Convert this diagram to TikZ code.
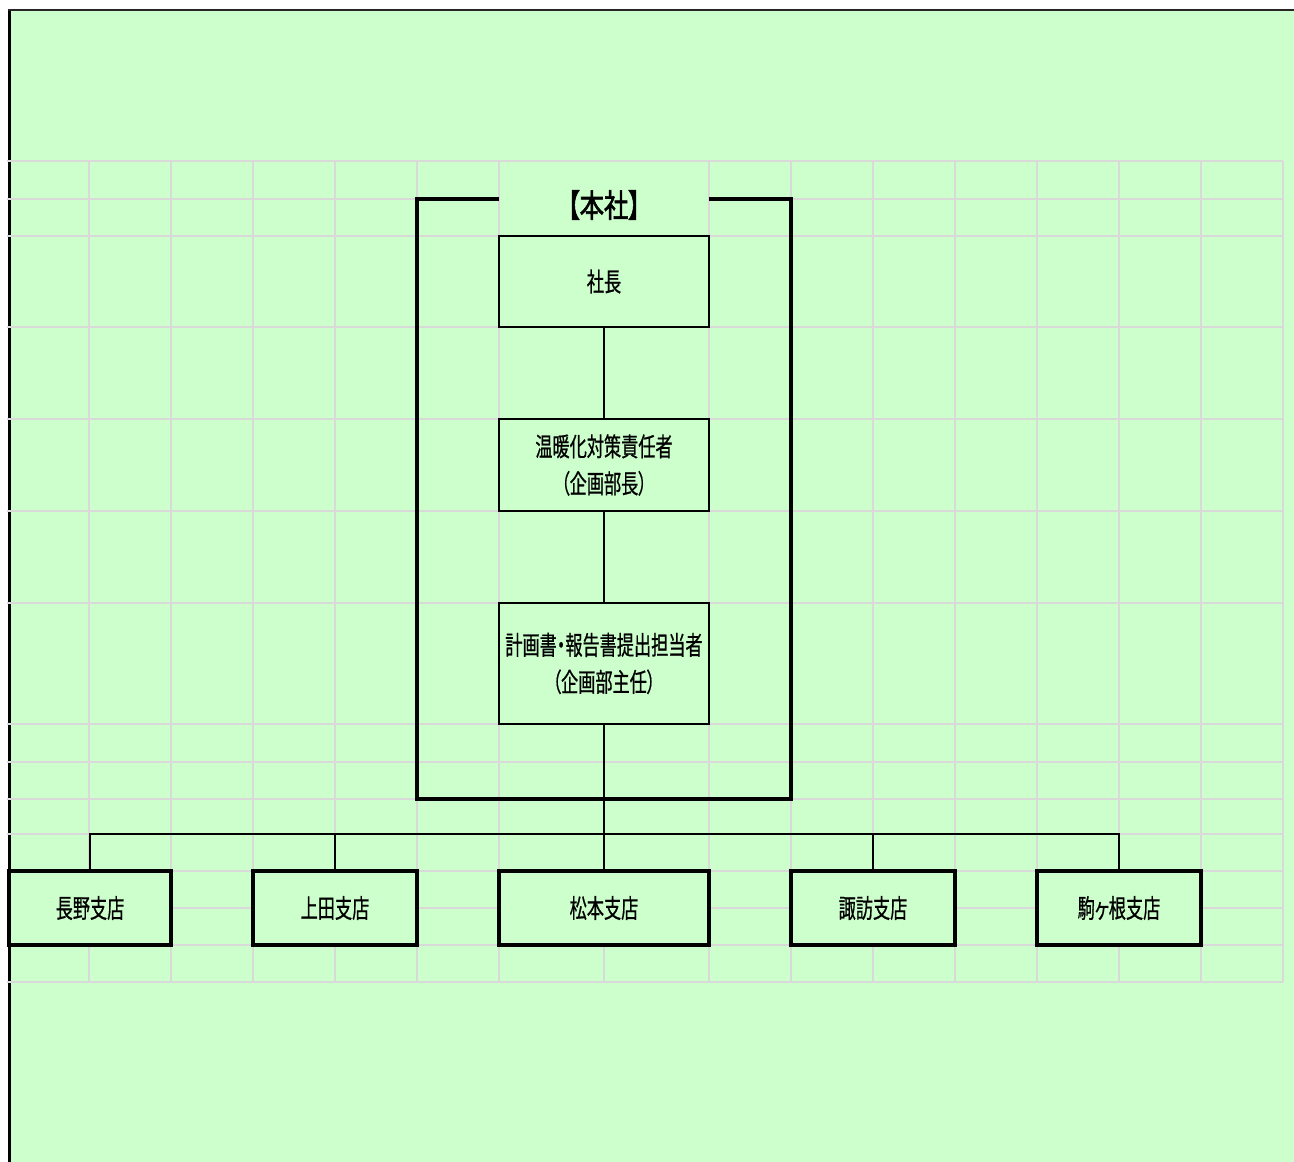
\documentclass[tikz,border=0pt]{standalone}
\usepackage{fontspec}
\newfontfamily\jp[FakeStretch=0.66,FakeBold=0.6,RawFeature=+palt]{Noto Sans CJK JP}
\newfontfamily\jpb[FakeStretch=0.76,FakeBold=1.8,RawFeature=+palt]{Noto Sans CJK JP}
\definecolor{bg}{HTML}{CCFFCC}
\definecolor{gridc}{HTML}{D9D9D9}
\begin{document}
\begin{tikzpicture}[x=1pt,y=-1pt,
  gridline/.style={draw=gridc,line width=1.8pt},
  cbox/.style={draw=black,fill=bg,line width=1.6pt,minimum width=210pt,inner sep=0pt,align=center,font=\jp\fontsize{26}{37}\selectfont},
  bbox/.style={draw=black,fill=bg,line width=3.2pt,minimum height=74pt,inner sep=0pt,align=center,font=\jp\fontsize{26}{37}\selectfont},
  titlenode/.style={inner sep=0pt,font=\jpb\fontsize{32}{36}\selectfont},
  conn/.style={draw=black,line width=1.6pt},
  frame/.style={draw=black,line width=3.2pt}]
\useasboundingbox (0,0) rectangle (1294,1162);
\fill[white] (0,0) rectangle (1294,1162);
\fill[bg] (9,10) rectangle (1294,1162);
% sheet edges
\draw[line width=3pt,black] (9,10) -- (9,1162);
\draw[line width=2.2pt,black!85] (7.5,10) -- (1294,10);
% cell grid
\foreach \y in {161,199,236,327,419,511,603,724,762,799,834,871,908,945,982}
  \draw[gridline] (7,\y) -- (1283,\y);
\foreach \x in {89,171,253,335,417,499,709,791,873,955,1037,1119,1201,1283}
  \draw[gridline] (\x,161) -- (\x,982);
\draw[gridline] (604,945) -- (604,982);
% merged title cell
\fill[bg] (500,162) rectangle (708,235);
% head office frame
\draw[frame] (499,199) -- (417,199) -- (417,799) -- (791,799) -- (791,199) -- (709,199);
% nodes
\node[titlenode] (honsha) at (604,205) {【本社】};
\node[cbox,minimum height=91pt] (pres) at (604,281.5) {社長};
\node[cbox,minimum height=92pt] (resp) at (604,465) {温暖化対策責任者\\（企画部長）};
\node[cbox,minimum height=121pt] (plan) at (604,663.5) {計画書・報告書提出担当者\\（企画部主任）};
\node[bbox,minimum width=162pt] (nagano) at (90,908) {長野支店};
\node[bbox,minimum width=164pt] (ueda) at (335,908) {上田支店};
\node[bbox,minimum width=210pt] (matsumoto) at (604,908) {松本支店};
\node[bbox,minimum width=164pt] (suwa) at (873,908) {諏訪支店};
\node[bbox,minimum width=164pt] (komagane) at (1119,908) {駒ヶ根支店};
% connectors
\coordinate (bus) at (604,834);
\draw[conn] (pres.south) -- (resp.north);
\draw[conn] (resp.south) -- (plan.north);
\draw[conn] (plan.south) -- (matsumoto.north);
\draw[conn] (nagano.north) |- (bus) -| (komagane.north);
\draw[conn] (ueda.north) -- (ueda.north |- bus);
\draw[conn] (suwa.north) -- (suwa.north |- bus);
\end{tikzpicture}
\end{document}
